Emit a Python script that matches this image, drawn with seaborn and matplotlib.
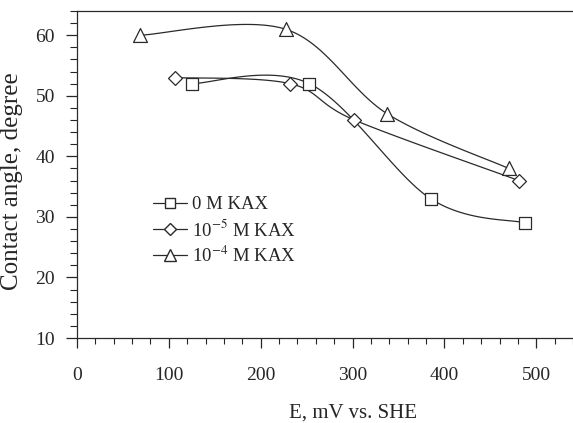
import numpy as np
import pandas as pd
import matplotlib
matplotlib.use("Agg")
import matplotlib.pyplot as plt
from matplotlib.lines import Line2D
from matplotlib.ticker import MultipleLocator
import seaborn as sns

# Datos
e_0 = [125, 253, 385, 488]
ang_0 = [52, 52, 33, 29]
e_5 = [107, 232, 302, 481]
ang_5 = [53, 52, 46, 36]
e_4 = [69, 227, 338, 470]
ang_4 = [60, 61, 47, 38]
etiquetas = ["0 M KAX", "10$^{-5}$ M KAX", "10$^{-4}$ M KAX"]
marcadores = ["s", "D", "^"]

XMAX, YMIN, YMAX = 540, 10, 64


def suavizar(x, y, n=40):
    # curva suave tipo Excel (Catmull-Rom) en coordenadas de pixel aproximadas
    px = np.array(x, float) / XMAX
    py = (np.array(y, float) - YMIN) / (YMAX - YMIN) * 0.66
    pts = np.column_stack([px, py])
    p = np.vstack([pts[0], pts, pts[-1]])
    out = []
    for i in range(1, len(p) - 2):
        p0, p1, p2, p3 = p[i - 1], p[i], p[i + 1], p[i + 2]
        t = np.linspace(0, 1, n)[:, None]
        c1 = p1 + (p2 - p0) / 6
        c2 = p2 - (p3 - p1) / 6
        seg = (1 - t) ** 3 * p1 + 3 * (1 - t) ** 2 * t * c1 + 3 * (1 - t) * t ** 2 * c2 + t ** 3 * p2
        out.append(seg)
    s = np.vstack(out)
    return s[:, 0] * XMAX, s[:, 1] / 0.66 * (YMAX - YMIN) + YMIN


sns.set_style("ticks")
plt.rcParams["font.family"] = ["Liberation Serif", "DejaVu Serif"]
plt.rcParams["mathtext.fontset"] = "stix"

fig = plt.figure(figsize=(5.73, 4.23), dpi=100)
ax = fig.add_axes([77 / 573, 1 - 338 / 423, 1 - 77 / 573, (338 - 11) / 423])

gris = "#2a2a2a"
series = [(e_0, ang_0), (e_5, ang_5), (e_4, ang_4)]
handles = []
for (xs, ys), lab, m in zip(series, etiquetas, marcadores):
    sx, sy = suavizar(xs, ys)
    curva = pd.DataFrame({"x": sx, "y": sy})
    sns.lineplot(data=curva, x="x", y="y", sort=False, color=gris, linewidth=0.9, ax=ax)
    ms = {"s": 80, "D": 50, "^": 100}[m]
    sns.scatterplot(x=xs, y=ys, marker=m, s=ms, facecolor="white", edgecolor=gris,
                    linewidth=0.9, ax=ax, zorder=3)
    handles.append(Line2D([0], [0], color=gris, lw=0.9, marker=m,
                          markersize={"s": 7.5, "D": 6, "^": 8}[m],
                          markerfacecolor="white", markeredgecolor=gris, label=lab))

ax.set_xlim(0, XMAX)
ax.set_ylim(YMIN, YMAX)
ax.set_yticks([10, 20, 30, 40, 50, 60])
ax.xaxis.set_major_locator(MultipleLocator(100))
ax.xaxis.set_minor_locator(MultipleLocator(20))
ax.yaxis.set_minor_locator(MultipleLocator(2))
ax.tick_params(axis="x", which="major", length=7, width=0.9, pad=14, labelsize=14)
ax.tick_params(axis="x", which="minor", length=4, width=0.8)
ax.tick_params(axis="y", which="major", length=8, width=0.9, pad=8, labelsize=14)
ax.tick_params(axis="y", which="minor", length=5, width=0.8)
ax.spines["right"].set_visible(False)
for s in ["left", "bottom", "top"]:
    ax.spines[s].set_linewidth(0.9)
    ax.spines[s].set_color(gris)

ax.set_xlabel("E, mV vs. SHE", fontsize=15)
ax.set_ylabel("Contact angle, degree", fontsize=18)
ax.xaxis.set_label_coords((353 - 77) / 496, -(404 - 338) / 327)
ax.yaxis.set_label_coords(-(77 - 23) / 496, (338 - 181) / 327)

ax.legend(handles=handles, loc="upper left", bbox_to_anchor=(0.135, 0.462), frameon=False,
          fontsize=13.5, handlelength=1.8, handletextpad=0.25, labelspacing=0.3, borderpad=0)

fig.savefig("out.png", dpi=100)
